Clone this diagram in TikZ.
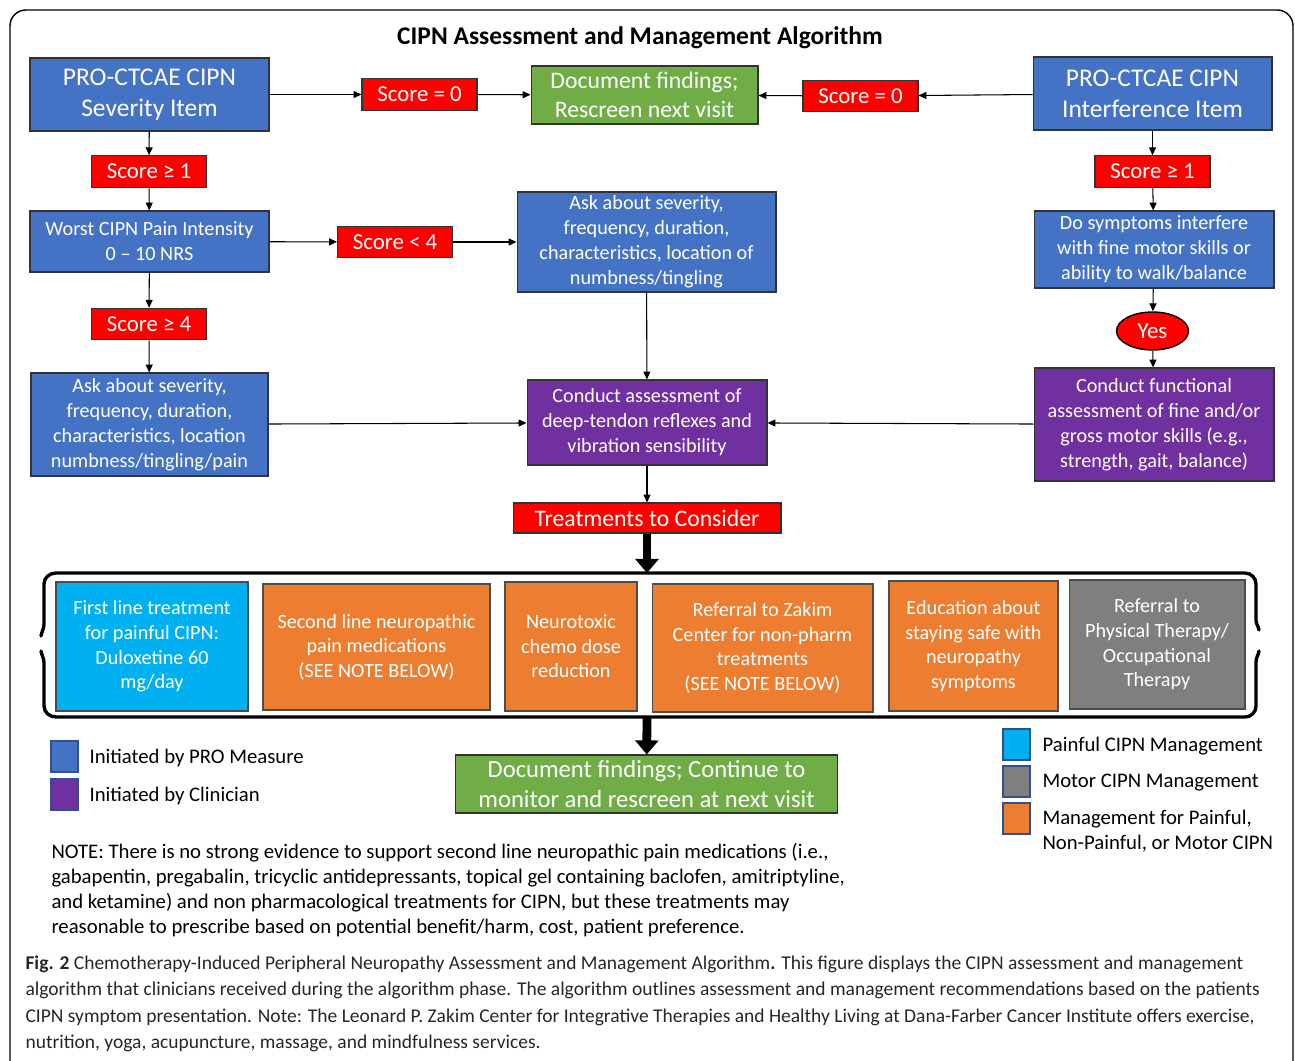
\documentclass[tikz,border=0pt]{standalone}
\usepackage{fontspec}
\setmainfont{Carlito}
\usetikzlibrary{arrows.meta,shapes.geometric}

\definecolor{problue}{HTML}{4472C4}
\definecolor{clinpurple}{HTML}{7030A0}
\definecolor{scorered}{HTML}{FF0000}
\definecolor{docgreen}{HTML}{70AD47}
\definecolor{painblue}{HTML}{00B0F0}
\definecolor{mgmtorange}{HTML}{ED7D31}
\definecolor{motorgray}{HTML}{7F7F7F}
\definecolor{edgeblue}{HTML}{2F528F}

\tikzset{
  box/.style={draw=black!80, line width=0.6pt, text=white, align=center, inner sep=1pt},
  probox/.style={box, fill=problue},
  clinbox/.style={box, fill=clinpurple},
  scorebox/.style={box, fill=scorered, font=\fontsize{13}{15}\selectfont, minimum width=2.3cm, minimum height=0.63cm},
  docbox/.style={box, fill=docgreen},
  treatbox/.style={box, font=\fontsize{11.5}{14}\selectfont, draw=black!70},
  bigtext/.style={font=\fontsize{14.5}{17.5}\selectfont},
  smalltext/.style={font=\fontsize{11.5}{14.2}\selectfont},
  legendsq/.style={draw=edgeblue, line width=0.6pt, minimum width=0.54cm, minimum height=0.62cm, inner sep=0pt},
  legendtext/.style={anchor=west, align=left, inner sep=0pt, font=\fontsize{11.8}{14.2}\selectfont},
  bracket/.style={line width=1.9pt, line cap=round},
  bigarrow/.style={line width=5pt, -{Triangle[length=8pt,width=13pt]}}
}

\begin{document}
\begin{tikzpicture}[x=0.02cm, y=-0.02cm, >={Triangle[length=4.5pt,width=4pt]}, line width=0.6pt]
\useasboundingbox (0,0) rectangle (1295,1061);
\draw[line width=0.8pt, rounded corners=9pt] (10,1061) -- (10,10) -- (1293,10) -- (1293,1061);

\node[font=\bfseries\fontsize{14.5}{17}\selectfont] (title) at (640,38) {CIPN Assessment and Management Algorithm};

% top row
\node[probox, bigtext, minimum width=4.78cm, minimum height=1.46cm] (sev) at (149.5,94.5) {PRO-CTCAE CIPN\\Severity Item};
\node[scorebox] (sevzero) at (419.5,94.5) {Score = 0};
\node[docbox, font=\fontsize{13.5}{16.4}\selectfont, minimum width=4.54cm, minimum height=1.16cm] (docA) at (644.5,95) {Document findings;\\Rescreen next visit};
\node[scorebox] (intzero) at (860.5,96) {Score = 0};
\node[probox, bigtext, minimum width=4.78cm, minimum height=1.46cm] (int) at (1152.5,93.5) {PRO-CTCAE CIPN\\Interference Item};

% left column
\node[scorebox] (sevone) at (149,171.5) {Score ≥ 1};
\node[probox, smalltext, minimum width=4.78cm, minimum height=1.22cm] (worst) at (149.5,241.5) {Worst CIPN Pain Intensity\\0 – 10 NRS};
\node[scorebox] (belowfour) at (395,242) {Score < 4};
\node[scorebox] (abovefour) at (149,324) {Score ≥ 4};
\node[probox, smalltext, minimum width=4.74cm, minimum height=2.06cm] (askpain) at (149.5,424.5) {Ask about severity,\\frequency, duration,\\characteristics, location\\numbness/tingling/pain};

% middle column
\node[probox, smalltext, minimum width=5.18cm, minimum height=2cm] (asknumb) at (646.5,242) {Ask about severity,\\frequency, duration,\\characteristics, location of\\numbness/tingling};
\node[clinbox, smalltext, minimum width=4.8cm, minimum height=1.7cm] (reflex) at (647,422.5) {Conduct assessment of\\deep-tendon reflexes and\\vibration sensibility};
\node[box, fill=scorered, font=\fontsize{13.5}{16}\selectfont, minimum width=5.36cm, minimum height=0.6cm] (treat) at (647,518) {Treatments to Consider};

% right column
\node[scorebox] (intone) at (1152.5,171.5) {Score ≥ 1};
\node[probox, smalltext, minimum width=4.8cm, minimum height=1.54cm] (motor) at (1154,249.5) {Do symptoms interfere\\with fine motor skills or\\ability to walk/balance};
\node[ellipse, draw=black, line width=0.8pt, fill=scorered, text=white, font=\fontsize{13}{15}\selectfont, minimum width=1.44cm, minimum height=0.76cm, inner sep=0pt] (yes) at (1152.5,331) {Yes};
\node[clinbox, smalltext, minimum width=4.8cm, minimum height=2.26cm] (functional) at (1154,424.5) {Conduct functional\\assessment of fine and/or\\gross motor skills (e.g.,\\strength, gait, balance)};

% treatments
\node[treatbox, fill=painblue, minimum width=3.84cm, minimum height=2.58cm] (duloxetine) at (152,646.5) {First line treatment\\for painful CIPN:\\Duloxetine 60\\mg/day};
\node[treatbox, fill=mgmtorange, minimum width=4.54cm, minimum height=2.52cm] (secondline) at (376.5,647) {Second line neuropathic\\pain medications\\(SEE NOTE BELOW)};
\node[treatbox, fill=mgmtorange, minimum width=2.64cm, minimum height=2.58cm] (dose) at (571,646.5) {Neurotoxic\\chemo dose\\reduction};
\node[treatbox, fill=mgmtorange, minimum width=4.42cm, minimum height=2.56cm] (zakim) at (762.5,648) {Referral to Zakim\\Center for non-pharm\\treatments\\(SEE NOTE BELOW)};
\node[treatbox, fill=mgmtorange, minimum width=3.38cm, minimum height=2.6cm] (safety) at (973.5,646) {Education about\\staying safe with\\neuropathy\\symptoms};
\node[treatbox, fill=motorgray, minimum width=3.52cm, minimum height=2.58cm] (therapy) at (1157,644.5) {Referral to\\Physical Therapy/\\Occupational\\Therapy};

% bracket round the treatments
\coordinate (brtop) at (647,573);
\coordinate (brbot) at (647,717);
\draw[bracket] (41,636) to[out=80,in=-90] (44,624) -- (44,584) to[out=90,in=180] (56,573) -- (1245,573) to[out=0,in=90] (1256,584) -- (1256,620) to[out=-90,in=100] (1259,630);
\draw[bracket] (41,651) to[out=-80,in=90] (44,663) -- (44,706) to[out=-90,in=180] (56,717) -- (1245,717) to[out=0,in=-90] (1256,706) -- (1256,662) to[out=90,in=-100] (1259,651);

\node[docbox, font=\fontsize{14}{17}\selectfont, minimum width=7.66cm, minimum height=1.16cm] (docB) at (646.5,784) {Document findings; Continue to\\monitor and rescreen at next visit};

% connectors
\draw[->] (sev) -- (sevzero);
\draw[->] (sevzero) -- (docA);
\draw[->] (int) -- (intzero);
\draw[->] (intzero) -- (docA);
\draw[->] (sev) -- (sevone);
\draw[->] (sevone) -- (worst);
\draw[->] (worst) -- (belowfour);
\draw[->] (belowfour) -- (asknumb);
\draw[->] (worst) -- (abovefour);
\draw[->] (abovefour) -- (askpain);
\draw[->] (askpain) -- (reflex);
\draw[->] (asknumb) -- (reflex);
\draw[->] (functional) -- (reflex);
\draw[->] (int) -- (intone);
\draw[->] (intone) -- (motor);
\draw[->] (motor) -- (yes);
\draw[->] (yes) -- (functional);
\draw[->] (reflex) -- (treat);
\draw[bigarrow] (treat) -- (brtop);
\draw[bigarrow] (brbot) -- (docB);

% legends
\node[legendsq, fill=problue] (keypro) at (64.5,756.5) {};
\node[legendtext] (keyprotext) at (89,758) {Initiated by PRO Measure};
\node[legendsq, fill=clinpurple] (keyclin) at (64.5,794.5) {};
\node[legendtext] (keyclintext) at (89,796) {Initiated by Clinician};
\node[legendsq, fill=painblue] (keypain) at (1016.5,744.5) {};
\node[legendtext] (keypaintext) at (1042,746) {Painful CIPN Management};
\node[legendsq, fill=motorgray] (keymotor) at (1016.5,781.5) {};
\node[legendtext] (keymotortext) at (1042,783) {Motor CIPN Management};
\node[legendsq, fill=mgmtorange] (keyall) at (1016.5,818.5) {};
\node[legendtext] (keyalltext) at (1042,831) {Management for Painful,\\Non-Painful, or Motor CIPN};

% note and caption
\node[legendtext] (note) at (51,890) {NOTE: There is no strong evidence to support second line neuropathic pain medications (i.e.,\\gabapentin, pregabalin, tricyclic antidepressants, topical gel containing baclofen, amitriptyline,\\and ketamine) and non pharmacological treatments for CIPN, but these treatments may\\reasonable to prescribe based on potential benefit/harm, cost, patient preference.};
\node[anchor=west, align=left, inner sep=0pt, font=\fontsize{11.1}{15}\selectfont, text=black!85] (caption) at (25,1004) {\textbf{Fig. 2} Chemotherapy-Induced Peripheral Neuropathy Assessment and Management Algorithm\textbf{.} This figure displays the CIPN assessment and management\\algorithm that clinicians received during the algorithm phase. The algorithm outlines assessment and management recommendations based on the patients\\CIPN symptom presentation. Note: The Leonard P. Zakim Center for Integrative Therapies and Healthy Living at Dana-Farber Cancer Institute offers exercise,\\nutrition, yoga, acupuncture, massage, and mindfulness services.};
\end{tikzpicture}
\end{document}
